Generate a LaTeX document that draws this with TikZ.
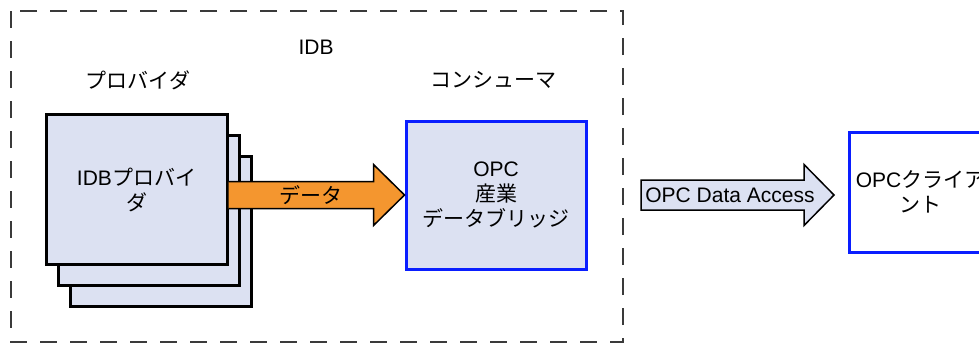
\documentclass[tikz,border=0pt]{standalone}
\usepackage{fontspec}
\setmainfont{Liberation Sans}
\newfontfamily\jp{Noto Sans CJK JP}
\usetikzlibrary{calc}
\definecolor{lav}{HTML}{DCE1F2}
\definecolor{dataorange}{HTML}{F4962F}
\definecolor{opcblue}{HTML}{0A1EFF}
\definecolor{framegray}{HTML}{3A3A3A}

\begin{document}
\begin{tikzpicture}[x=1pt,y=-1pt,
  font=\fontsize{21}{25}\selectfont,
  layer/.style={draw=black,line width=3pt,fill=lav,minimum width=181pt,minimum height=150pt,inner sep=0pt},
  comp/.style={draw=opcblue,line width=3pt,align=center,inner sep=0pt},
  lbl/.style={inner sep=0pt},
  blockarr/.style={draw=black,line width=1.5pt,line join=miter}]
\useasboundingbox (0,0) rectangle (979,343);
% IDB frame
\draw[draw=framegray,line width=1.5pt,dash pattern=on 17pt off 13pt] (11,11) rectangle (623,342);
\node[lbl] (idb) at (316,47) {IDB};
\node[lbl] (provlbl) at (138,80) {\jp プロバイダ};
\node[lbl] (conslbl) at (493,80) {\jp コンシューマ};
% provider stack
\node[layer] (prov3) at (160.5,231) {};
\node[layer] (prov2) at (148.5,210) {};
\node[layer,align=center] (prov) at (136.5,189.5) {IDB{\jp プロバイ}\\{\jp ダ}};
% consumer and client
\node[comp,fill=lav,minimum width=180pt,minimum height=148pt] (bridge) at (496,195) {OPC\\{\jp 産業}\\{\jp データブリッジ}};
\node[comp,fill=white,anchor=west,minimum height=120pt,text width=130pt,inner xsep=6pt] (client) at (848,192) {OPC{\jp クライア}\\{\jp ント}};
% data arrow
\coordinate (dtail) at (prov.east |- bridge.west);
\draw[blockarr,fill=dataorange] ($(dtail)+(0,-13.5)$) -- ($(bridge.west)+(-31,-13.5)$) -- ($(bridge.west)+(-31,-30.5)$) -- (bridge.west) -- ($(bridge.west)+(-31,30.5)$) -- ($(bridge.west)+(-31,13.5)$) -- ($(dtail)+(0,13.5)$);
\node[lbl] (datalbl) at (311,195) {\jp データ};
% OPC DA arrow
\coordinate (datail) at (641,195);
\coordinate (datip) at ($(client.west)+(-14,3)$);
\draw[blockarr,fill=lav] ($(datail)+(0,-15)$) -- ($(datip)+(-30,-15)$) -- ($(datip)+(-30,-30.5)$) -- (datip) -- ($(datip)+(-30,30.5)$) -- ($(datip)+(-30,15)$) -- ($(datail)+(0,15)$) -- cycle;
\node[lbl] (dalbl) at (730,195) {OPC Data Access};
\end{tikzpicture}
\end{document}
